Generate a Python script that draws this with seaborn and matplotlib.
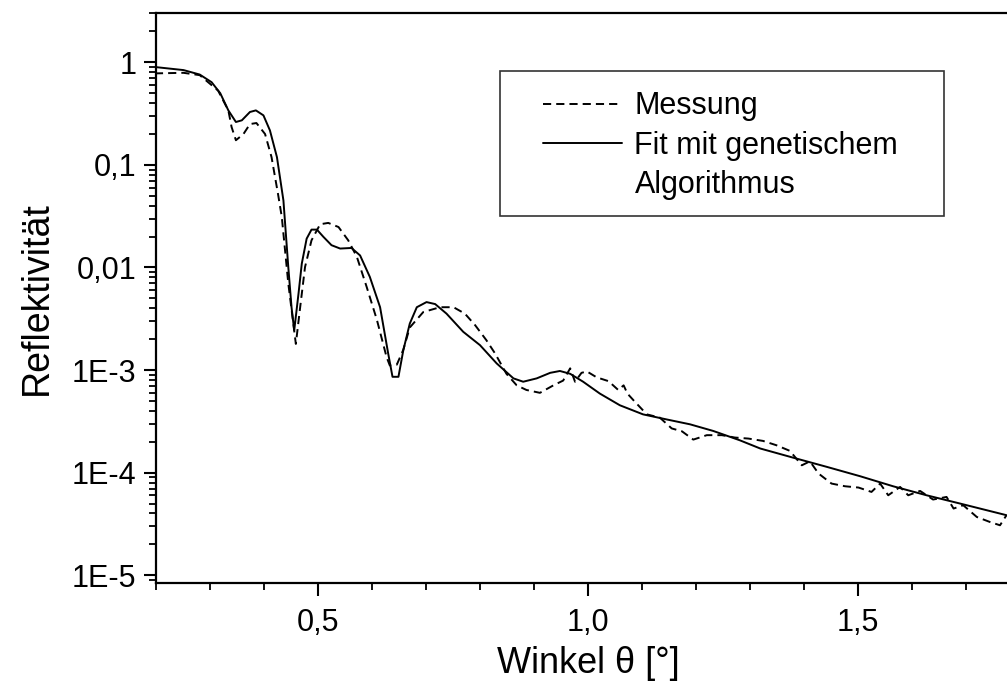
import numpy as np
import pandas as pd
import matplotlib
matplotlib.use("Agg")
import matplotlib.pyplot as plt
import seaborn as sns
from matplotlib.lines import Line2D
from matplotlib.patches import Rectangle
from matplotlib.ticker import LogLocator, MultipleLocator, NullFormatter

# Messung (gestrichelt)
mess_theta = [0.198, 0.251, 0.281, 0.315, 0.334, 0.340, 0.348, 0.362, 0.374, 0.386,
              0.402, 0.414, 0.426, 0.433, 0.445, 0.459, 0.467, 0.476, 0.488, 0.504,
              0.519, 0.538, 0.556, 0.572, 0.590, 0.609, 0.627, 0.633, 0.646, 0.658,
              0.670, 0.695, 0.726, 0.751, 0.772, 0.791, 0.812, 0.828, 0.849, 0.868,
              0.886, 0.911, 0.936, 0.954, 0.967, 0.976, 0.988, 0.998, 1.016, 1.038,
              1.056, 1.066, 1.073, 1.087, 1.109, 1.133, 1.155, 1.174, 1.195, 1.220,
              1.248, 1.272, 1.297, 1.324, 1.349, 1.374, 1.396, 1.411, 1.427, 1.451,
              1.476, 1.501, 1.525, 1.541, 1.556, 1.578, 1.593, 1.615, 1.639, 1.664,
              1.677, 1.695, 1.720, 1.744, 1.763, 1.775]
mess_refl = [0.78, 0.79, 0.75, 0.53, 0.34, 0.234, 0.174, 0.20, 0.25, 0.256,
             0.20, 0.119, 0.052, 0.031, 0.007, 0.0018, 0.0041, 0.0101, 0.0184, 0.0264,
             0.0272, 0.0248, 0.0184, 0.0127, 0.0065, 0.0031, 0.00134, 0.00111, 0.00113, 0.00158,
             0.0026, 0.00368, 0.0041, 0.0041, 0.00355, 0.00274, 0.00195, 0.00145, 0.00092, 0.00071,
             0.00064, 0.0006, 0.00071, 0.00079, 0.00104, 0.00077, 0.00094, 0.00097, 0.00085, 0.00078,
             0.00064, 0.00071, 0.00059, 0.00049, 0.00037, 0.000344, 0.00027, 0.000253, 0.00021, 0.000232,
             0.000232, 0.00022, 0.000215, 0.000204, 0.000185, 0.000163, 0.000118, 0.000129, 0.000098, 0.0000783,
             0.0000737, 0.0000716, 0.0000649, 0.0000783, 0.0000602, 0.0000726, 0.0000602, 0.0000664, 0.0000547, 0.000058,
             0.0000447, 0.0000481, 0.000037, 0.0000331, 0.0000307, 0.0000385]

# Fit mit genetischem Algorithmus (durchgezogen)
fit_theta = [0.198, 0.251, 0.281, 0.303, 0.319, 0.334, 0.348, 0.359, 0.374, 0.385,
             0.399, 0.411, 0.424, 0.436, 0.445, 0.451, 0.456, 0.464, 0.470, 0.479,
             0.488, 0.498, 0.510, 0.525, 0.541, 0.562, 0.578, 0.596, 0.615, 0.630,
             0.638, 0.649, 0.658, 0.670, 0.683, 0.701, 0.717, 0.738, 0.769, 0.800,
             0.831, 0.862, 0.880, 0.905, 0.930, 0.948, 0.967, 0.991, 1.022, 1.059,
             1.102, 1.146, 1.189, 1.232, 1.281, 1.319, 1.380, 1.442, 1.504, 1.565,
             1.627, 1.689, 1.775]
fit_refl = [0.90, 0.84, 0.76, 0.64, 0.50, 0.34, 0.262, 0.272, 0.328, 0.34,
            0.304, 0.217, 0.119, 0.045, 0.0101, 0.0041, 0.00244, 0.0056, 0.0109, 0.0191,
            0.0234, 0.0234, 0.0199, 0.0165, 0.0153, 0.0155, 0.0131, 0.0081, 0.0041, 0.00145,
            0.00086, 0.00086, 0.00156, 0.00284, 0.0041, 0.0046, 0.0044, 0.00355, 0.00236, 0.00175,
            0.00116, 0.00083, 0.00077, 0.00083, 0.00094, 0.00098, 0.00092, 0.00077, 0.00059, 0.000454,
            0.00037, 0.00033, 0.000296, 0.000255, 0.000207, 0.000172, 0.00014, 0.000114, 0.0000923, 0.0000737,
            0.0000602, 0.00005, 0.0000385]

y_ticks = [1e-5, 1e-4, 1e-3, 1e-2, 1e-1, 1]
y_labels = ["1E-5", "1E-4", "1E-3", "0,01", "0,1", "1"]
x_ticks = [0.5, 1.0, 1.5]
x_labels = ["0,5", "1,0", "1,5"]

sns.set_style("ticks")
plt.rcParams['font.family'] = ['Liberation Sans', 'DejaVu Sans']
plt.rcParams.update({"text.color": "black", "axes.labelcolor": "black",
                     "xtick.color": "black", "ytick.color": "black"})

mess = pd.DataFrame({"theta": mess_theta, "R": mess_refl})
fit = pd.DataFrame({"theta": fit_theta, "R": fit_refl})

dash = (0, (4.2, 2.6))

fig = plt.figure(figsize=(10.07, 6.93), dpi=100)
# rechte Achse liegt ausserhalb des Bildes (wie im Original abgeschnitten)
ax = fig.add_axes([0.1549, 0.1587, 0.858, 0.822])

sns.lineplot(data=mess, x="theta", y="R", ax=ax, color="black", lw=1.4, linestyle=dash)
sns.lineplot(data=fit, x="theta", y="R", ax=ax, color="black", lw=1.4)

ax.set_yscale("log")
ax.set_xlim(0.2, 1.8)
ax.set_ylim(8.4e-6, 3.0)

ax.set_xticks(x_ticks, x_labels)
ax.xaxis.set_minor_locator(MultipleLocator(0.1))
ax.set_yticks(y_ticks, y_labels)
ax.yaxis.set_minor_locator(LogLocator(base=10, subs=np.arange(2, 10)))
ax.yaxis.set_minor_formatter(NullFormatter())

ax.tick_params(which="major", length=9, width=1.5, labelsize=22, pad=5,
               color="black", labelcolor="black")
ax.tick_params(which="minor", length=5, width=1.3, color="black")
ax.tick_params(axis="x", which="major", pad=9)
for sp in ax.spines.values():
    sp.set_linewidth(1.6)
    sp.set_color("black")

ax.set_xlabel("Winkel θ [°]", fontsize=26, labelpad=6, color="black")
ax.set_ylabel("Reflektivität", fontsize=27, labelpad=12, color="black")

# Legende ohne eigenen Rahmen, Rahmen separat (Innenabstand links groesser als oben)
handles = [Line2D([], [], color="black", lw=1.4, linestyle=dash),
           Line2D([], [], color="black", lw=1.4),
           Line2D([], [], color="none")]
labels = ["Messung", "Fit mit genetischem", "Algorithmus"]
leg = ax.legend(handles, labels, loc="upper left", bbox_to_anchor=(0.539, 0.868),
                bbox_transform=fig.transFigure, fontsize=22, frameon=False,
                handlelength=2.6, handletextpad=0.4, labelspacing=0.3,
                borderpad=0, borderaxespad=0)
for t in leg.get_texts():
    t.set_color("black")
fig.patches.append(Rectangle((0.4965, 0.6883), 0.441, 0.2097, transform=fig.transFigure,
                             fill=False, edgecolor="#333333", lw=1.2, zorder=5))

fig.savefig("out.png", dpi=100)
